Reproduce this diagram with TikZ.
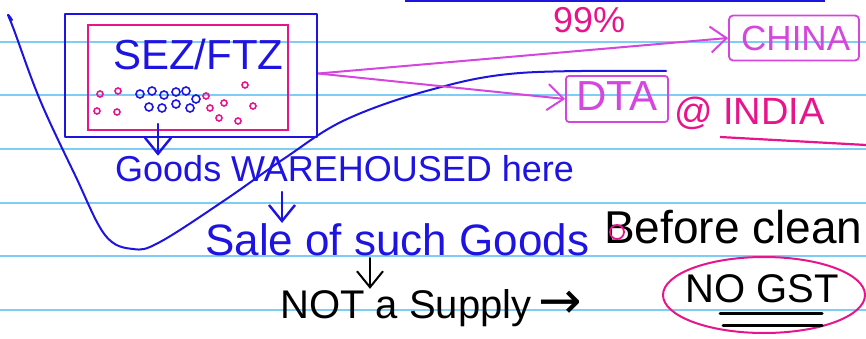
\documentclass[tikz,border=0pt]{standalone}
\usepackage{fontspec}
\setmainfont{Liberation Sans}
\newfontfamily\symfont{DejaVu Sans}
\usetikzlibrary{arrows.meta}
\definecolor{penblue}{RGB}{30,20,225}
\definecolor{penpink}{RGB}{232,20,140}
\definecolor{penviolet}{RGB}{212,70,222}
\definecolor{ruled}{RGB}{125,205,245}
\tikzset{
  hand/.style={line width=2.4pt, line cap=round, line join=round},
  txt/.style={anchor=base west, inner sep=0pt},
  blob/.style={line width=1.6pt}
}
\begin{document}
\begin{tikzpicture}[x=1pt, y=-1pt, >={Straight Barb[length=16pt,width=26pt]}]
	\useasboundingbox (0,0) rectangle (866,339);
	
	% Lignes du cahier
	\foreach \y in {42,95,149,203,256,310}
	\draw[ruled, line width=1.2pt] (0,\y) -- (866,\y);
	
	% Trait en haut
	\draw[penblue, line width=3pt] (405,1) -- (825,1);
	
	% Zone SEZ / FTZ
	\node[draw=penblue, hand, minimum width=252pt, minimum height=123pt, inner sep=0pt] (sez) at (191,75.5) {};
	\node[draw=penpink, line width=2pt, minimum width=200pt, minimum height=105pt, inner sep=0pt] (inner) at (188,77.5) {};
	\node[txt, penblue, font=\fontsize{42}{42}\selectfont] (seztxt) at (113,70) {SEZ/FTZ};
	
	% Marchandises (petits paquets)
	\foreach \x/\y in {140/94,152/91,164/95,176/92,186/91,149/107,162/108,176/104,190/108,196/99}
	\draw[penblue, blob] (\x,\y) circle (4pt);
	\foreach \x/\y in {100/94,118/91,117/112,206/96,224/103,245/85,253/106,97/111,219/118,238/121,210/108}
	\draw[penpink, blob] (\x,\y) circle (3pt);
	
	% Longue courbe
	\draw[penblue, hand, line width=2pt] plot[smooth, tension=0.6] coordinates {(12,20) (8,15) (14,30) (40,100) (75,175) (105,235) (133,249) (160,242) (225,200) (285,158) (345,120) (430,90) (520,73) (666,71)};
	
	% Destinations
	\node[draw=penviolet, line width=1.8pt, rounded corners=4pt, minimum width=130pt, minimum height=45pt, inner sep=0pt] (china) at (794,38) {};
	\node[txt, penviolet, font=\fontsize{35}{35}\selectfont] (chinatxt) at (741,51) {CHINA};
	\node[draw=penviolet, line width=1.8pt, rounded corners=3pt, minimum width=102pt, minimum height=46pt, inner sep=0pt] (dta) at (617,99) {};
	\node[txt, penviolet, font=\fontsize{42}{42}\selectfont] (dtatxt) at (576,111) {DTA};
	\draw[->, penviolet, line width=2pt] (sez.east) ++(0,-2) coordinate (out) -- (china.west);
	\draw[->, penviolet, line width=2pt] (out) -- (dta.west);
	\node[txt, penpink, font=\fontsize{36}{36}\selectfont] (pct) at (553,33) {99\%};
	\node[txt, penpink, font=\fontsize{38}{38}\selectfont] (india) at (674,125) {@ INDIA};
	\draw[penpink, line width=2.2pt] (720,137) -- (866,145);
	
	% Texte
	\coordinate (g1) at (158,124);
	\node[txt, penblue, font=\fontsize{36}{36}\selectfont] (goods) at (115,182) {Goods WAREHOUSED here};
	\draw[->, penblue, hand] (g1) -- (goods.north -| g1);
	\coordinate (s1) at (282,192);
	\node[txt, penblue, font=\fontsize{44}{44}\selectfont] (sale) at (205,255) {Sale of such Goods};
	\draw[->, penblue, hand] (s1) -- (sale.north -| s1);
	\node[txt, font=\fontsize{46}{46}\selectfont] (before) at (604,243) {Before clean};
	\draw[penpink, line width=1.8pt] (617,232) circle (7pt);
	\coordinate (n1) at (370,258);
	\node[txt, font=\fontsize{40}{40}\selectfont] (supply) at (280,318) {NOT a Supply};
	\draw[->, hand, line width=2pt] (n1) -- (supply.north -| n1);
	\node[txt, font=\symfont\fontsize{52}{52}\selectfont] (arr) at (538,318) {→};
	
	% NO GST
	\node[txt, font=\fontsize{40}{40}\selectfont] (gst) at (685,302) {NO GST};
	\draw[penpink, line width=2pt] (764,295) ellipse (101pt and 38pt);
	\draw[hand, line width=3pt] (720,313) -- (822,313);
	\draw[hand, line width=3pt] (723,325) -- (822,325);
\end{tikzpicture}
\end{document}
